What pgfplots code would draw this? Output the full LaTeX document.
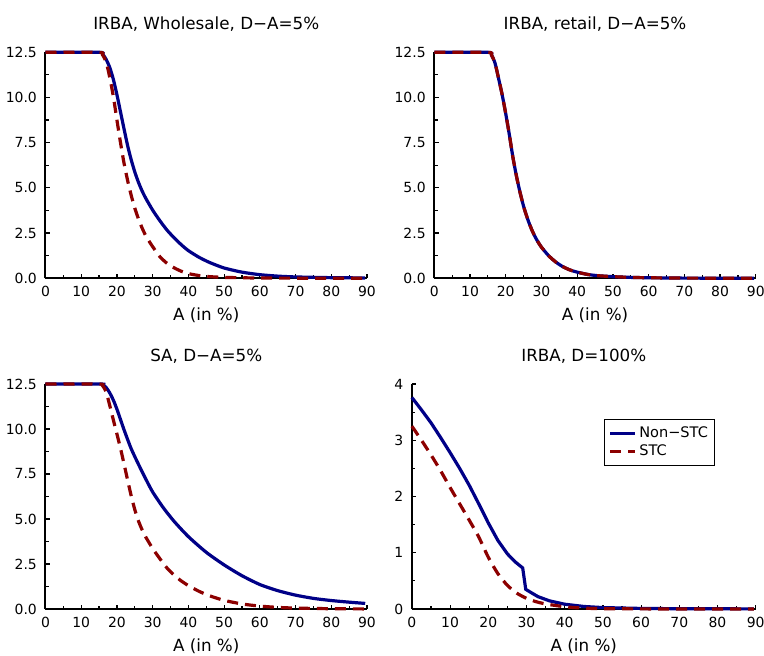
\documentclass[border=0pt]{standalone}
\usepackage{pgfplots}
\pgfplotsset{compat=1.18}
\usepackage{pgfplotstable}
\usepackage{fontspec}
\setmainfont{DejaVu Sans}
\definecolor{nstc}{RGB}{0,0,135}
\definecolor{stc}{RGB}{140,0,0}

\pgfplotstableread{
x y
0 12.5
15 12.5
16 12.4
17 12.1
18 11.65
19 11.0
20 10.15
21 9.2
22 8.25
23 7.33
24 6.55
25 5.88
26 5.32
27 4.85
28 4.45
30 3.77
32 3.19
34 2.67
36 2.24
38 1.86
40 1.53
43 1.16
46 0.87
50 0.57
55 0.34
60 0.2
65 0.12
70 0.075
80 0.035
89.5 0.02
}\tlb
\pgfplotstableread{
x y
0 12.5
15 12.5
16 12.35
17 11.95
18 11.1
19 10.05
20 8.75
21 7.5
22 6.35
23 5.4
24 4.58
25 3.88
26 3.3
27 2.8
28 2.38
29 2.05
30 1.75
32 1.2
34 0.83
36 0.58
38 0.39
40 0.26
43 0.15
46 0.09
50 0.05
55 0.03
60 0.015
70 0.008
89.5 0.003
}\tlr
\pgfplotstableread{
x y
0 12.5
15 12.5
16 12.35
17 11.9
18 11.05
19 10.15
20 9.1
21 7.95
22 6.7
23 5.65
24 4.75
25 3.98
26 3.35
27 2.82
28 2.38
29 2.02
30 1.72
32 1.25
34 0.9
36 0.64
38 0.46
40 0.34
43 0.21
46 0.14
50 0.09
55 0.05
60 0.03
70 0.01
89.5 0.005
}\trb
\pgfplotstableread{
x y
0 12.5
15 12.5
16 12.35
17 11.9
18 11.05
19 10.15
20 9.1
21 7.95
22 6.7
23 5.65
24 4.75
25 3.98
26 3.35
27 2.82
28 2.38
29 2.02
30 1.72
32 1.25
34 0.9
36 0.64
38 0.46
40 0.34
43 0.21
46 0.14
50 0.09
55 0.05
60 0.03
70 0.01
89.5 0.005
}\trr
\pgfplotstableread{
x y
0 12.5
15 12.5
16 12.47
17 12.3
18 12.0
19 11.6
20 11.1
22 9.95
24 8.9
26 8.05
28 7.25
30 6.5
33 5.62
36 4.87
40 4.02
45 3.15
50 2.45
55 1.85
60 1.36
65 1.02
70 0.77
75 0.59
80 0.47
85 0.38
89.5 0.31
}\blb
\pgfplotstableread{
x y
0 12.5
15 12.5
16 12.4
17 12.05
18 11.3
19 10.5
20 9.72
21 8.92
22 8.05
23 7.15
24 6.28
25 5.52
26 4.9
27 4.42
28 4.02
30 3.36
32 2.8
34 2.28
36 1.88
38 1.56
40 1.3
43 0.98
46 0.73
50 0.48
55 0.28
60 0.16
65 0.09
70 0.05
80 0.015
89.5 0.005
}\blr
\pgfplotstableread{
x y
0 3.76
2.5 3.54
5 3.31
7.5 3.05
10 2.78
12.5 2.5
15 2.2
17.5 1.87
20 1.53
22.5 1.22
25 0.98
27 0.84
29 0.73
29.8 0.35
31 0.3
33 0.22
36 0.145
40 0.085
45 0.045
50 0.025
60 0.01
70 0.005
89.5 0.002
}\brb
\pgfplotstableread{
x y
0 3.25
2.5 3.0
5 2.74
7.5 2.46
10 2.16
12.5 1.87
15 1.58
17.5 1.28
20 0.92
22.5 0.63
25 0.42
27.5 0.28
30 0.19
32.5 0.13
35 0.09
40 0.04
45 0.015
50 0.006
60 0.002
89.5 0
}\brr

\pgfplotsset{
  every axis title/.style={at={(0.5,1)}, anchor=base, yshift=11.2bp,
    font=\fontsize{8.4}{10}\selectfont},
  panel/.style={
    scale only axis,
    width=160.75bp, height=113bp,
    xmin=0, xmax=90,
    axis x line=bottom, axis y line=left,
    axis line style={-, line width=1bp, black},
    xtick={0,10,...,90}, minor x tick num=1,
    tick align=inside, major tick length=2.2bp, minor tick length=1.6bp,
    tick style={black, line width=0.6bp},
    every tick label/.append style={font=\fontsize{7}{8}\selectfont},
    /pgf/number format/assume math mode=true,
    xticklabel style={yshift=-0.5bp},
    yticklabel style={xshift=-0.8bp},
    xlabel={A (in \%)},
    xlabel style={at={(axis description cs:0.5,0)}, anchor=base, yshift=-21.25bp, font=\fontsize{8.4}{10}\selectfont},
    clip=false,
  },
  rwpanel/.style={
    panel, ymin=0, ymax=12.5,
    ytick={0,2.5,...,12.5}, minor y tick num=1,
    yticklabel style={/pgf/number format/.cd, fixed, fixed zerofill, precision=1},
  },
  nstcline/.style={color=nstc, line width=1.6bp},
  stcline/.style={color=stc, line width=1.6bp, dash pattern=on 5.5bp off 3.5bp},
}

\begin{document}
\begin{tikzpicture}
\path[use as bounding box] (0,0) rectangle (382bp,328bp);

\begin{axis}[rwpanel, at={(22.75bp,188.85bp)}, anchor=south west,
  title={IRBA, Wholesale, D−A=5\%}]
\addplot[nstcline, smooth, tension=0.4] table {\tlb};
\addplot[stcline, smooth, tension=0.4] table {\tlr};
\end{axis}

\begin{axis}[rwpanel, at={(217.15bp,188.85bp)}, anchor=south west,
  title={IRBA, retail, D−A=5\%}]
\addplot[nstcline, smooth, tension=0.4] table {\trb};
\addplot[stcline, smooth, tension=0.4] table {\trr};
\end{axis}

\begin{axis}[rwpanel, at={(22.75bp,23.5bp)}, anchor=south west,
  height=112.5bp,
  title={SA, D−A=5\%}]
\addplot[nstcline, smooth, tension=0.4] table {\blb};
\addplot[stcline, smooth, tension=0.4] table {\blr};
\end{axis}

\begin{axis}[panel, at={(205.95bp,23.5bp)}, anchor=south west,
  width=171.9bp, height=112.5bp,
  ymin=0, ymax=4, ytick={0,1,2,3,4}, minor y tick num=1,
  title={IRBA, D=100\%},
  legend cell align=left,
  legend image code/.code={\draw[#1] (0bp,0bp) -- (12.5bp,0bp);},
  legend style={at={(rel axis cs:0.559,0.844)}, anchor=north west,
    draw=black, line width=0.6bp, font=\fontsize{7.3}{8}\selectfont,
    inner xsep=2bp, inner ysep=2bp, row sep=-1bp,
    nodes={inner xsep=1.2bp, inner ysep=1.5bp}}]
\addplot[nstcline] table {\brb};
\addlegendentry{Non−STC}
\addplot[stcline, smooth, tension=0.4] table {\brr};
\addlegendentry{STC}
\end{axis}
\end{tikzpicture}
\end{document}
